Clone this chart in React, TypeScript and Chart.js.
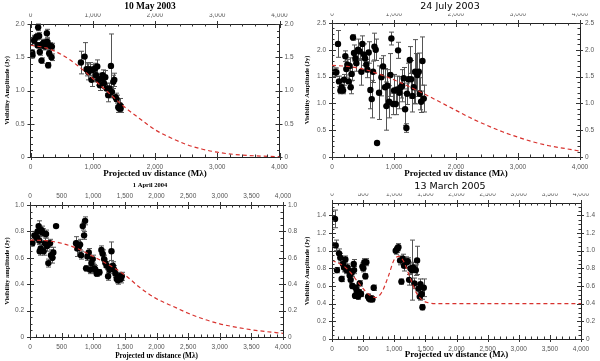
import React, { useEffect, useRef } from "react";
import { Chart, registerables } from "chart.js";

Chart.register(...registerables);

// ---------- shared model x grid (Mλ) ----------
const modelX = [0, 250, 500, 750, 1000, 1250, 1500, 1750, 2000, 2250, 2500, 2750, 3000, 3250, 3500, 3750, 4000];

// ---------- Panel 1: 10 May 2003 ----------
const p1X = [27, 32, 59, 64, 97, 113, 123, 139, 150, 166, 177, 193, 214, 231, 247, 263, 273, 284, 300, 316, 338, 343,
  810, 869, 900, 928, 954, 981, 997, 1035, 1051, 1072, 1088, 1115, 1142, 1158, 1180, 1201, 1222, 1249, 1265, 1292,
  1308, 1330, 1346, 1367, 1383, 1410, 1426, 1437, 1448];
const p1Y = [1.57, 1.53, 1.75, 1.77, 1.81, 1.68, 1.95, 1.82, 1.58, 1.68, 1.45, 1.70, 1.72, 1.66, 1.72, 1.86, 1.73, 1.38, 1.56, 1.67, 1.50, 1.66,
  1.42, 1.51, 1.32, 1.28, 1.32, 1.16, 1.31, 1.33, 1.23, 1.36, 1.16, 1.08, 1.18, 1.23, 1.11, 1.20, 1.03, 0.93, 1.03, 1.37,
  0.98, 1.13, 1.16, 0.90, 0.87, 0.75, 0.73, 0.78, 0.73];
const p1Err = [0.04, 0.04, 0.05, 0.06, 0.05, 0.04, 0.05, 0.05, 0.05, 0.04, 0.04, 0.05, 0.05, 0.05, 0.05, 0.06, 0.05, 0.04, 0.05, 0.05, 0.05, 0.05,
  0.17, 0.21, 0.1, 0.12, 0.1, 0.1, 0.08, 0.08, 0.1, 0.1, 0.08, 0.08, 0.08, 0.08, 0.08, 0.1, 0.08, 0.1, 0.08, 0.48,
  0.08, 0.1, 0.1, 0.06, 0.06, 0.08, 0.06, 0.1, 0.06];
const m1Y = [1.68, 1.64, 1.54, 1.38, 1.18, 0.97, 0.76, 0.58, 0.41, 0.29, 0.19, 0.12, 0.072, 0.041, 0.023, 0.012, 0.006];
const p1XTicks = [0, 1000, 2000, 3000, 4000];
const p1YTicks = [0, 0.5, 1, 1.5, 2];

// ---------- Panel 2: 24 July 2003 ----------
const p2X = [43, 70, 97, 113, 135, 156, 178, 194, 215, 231, 248, 269, 285, 302, 318, 339, 355, 377, 393, 420, 447, 474, 490, 516,
  533, 554, 571, 592, 619, 641, 662, 684, 705, 727, 759, 797, 824, 856, 878, 894, 921, 942, 958, 985, 1001, 1028, 1050, 1066,
  1087, 1109, 1131, 1157, 1179, 1200, 1211, 1233, 1254, 1276, 1297, 1319, 1341, 1362, 1378, 1400, 1416, 1437, 1459, 1480];
const p2Y = [1.58, 1.58, 2.11, 1.41, 1.24, 1.30, 1.24, 1.44, 1.88, 1.64, 1.72, 1.41, 1.70, 1.30, 1.55, 2.23, 1.94, 1.84, 1.75, 2.00, 1.97, 1.59, 2.11, 1.91,
  1.84, 1.72, 1.63, 1.95, 1.25, 1.08, 1.59, 2.06, 2.00, 0.26, 1.20, 1.49, 1.69, 1.30, 0.95, 1.33, 1.03, 1.53, 2.21, 0.99, 1.24, 0.99, 1.26, 1.99,
  1.20, 1.30, 1.33, 1.47, 0.89, 0.54, 1.18, 1.45, 1.81, 1.45, 1.14, 1.30, 1.59, 1.58, 1.53, 1.59, 1.18, 1.03, 1.79, 1.09];
const p2Err = [0.08, 0.08, 0.25, 0.1, 0.06, 0.06, 0.06, 0.1, 0.1, 0.15, 0.1, 0.12, 0.15, 0.12, 0.12, 0.05, 0.15, 0.1, 0.15, 0.2, 0.15, 0.25, 0.15, 0.2,
  0.1, 0.1, 0.15, 0.2, 0.35, 0.35, 0.2, 0.25, 0.2, 0, 0.5, 0.35, 0.2, 0.35, 0.45, 0.3, 0.3, 0.4, 0.12, 0.2, 0.3, 0.2, 0.25, 0.15,
  0.3, 0.2, 0.3, 0.2, 0.3, 0.08, 0.2, 0.3, 0.25, 0.35, 0.3, 0.3, 0.6, 0.35, 0.4, 0.35, 0.3, 0.2, 0.45, 0.25];
const m2Y = [1.71, 1.69, 1.64, 1.55, 1.44, 1.31, 1.17, 1.02, 0.87, 0.72, 0.59, 0.47, 0.37, 0.28, 0.21, 0.16, 0.11];
const p2XTicks = [0, 1000, 2000, 3000, 4000];
const p2YTicks = [0, 0.5, 1, 1.5, 2, 2.5];

// ---------- Panel 3: 1 April 2004 ----------
const p3X = [37, 69, 95, 116, 121, 137, 148, 153, 169, 185, 200, 216, 237, 253, 269, 290, 317, 332, 354, 369, 412,
  728, 749, 770, 792, 807, 834, 855, 871, 887, 908, 929, 950, 971, 992, 1018, 1034, 1055, 1077, 1098, 1129,
  1150, 1172, 1193, 1214, 1235, 1256, 1288, 1309, 1330, 1351, 1372, 1393, 1414, 1435, 1451];
const p3Y = [0.71, 0.77, 0.76, 0.75, 0.80, 0.84, 0.73, 0.65, 0.67, 0.81, 0.79, 0.65, 0.71, 0.78, 0.69, 0.56, 0.71, 0.62, 0.60, 0.64, 0.84,
  0.71, 0.67, 0.68, 0.70, 0.62, 0.84, 0.77, 0.88, 0.52, 0.61, 0.64, 0.51, 0.56, 0.59, 0.52, 0.51, 0.48, 0.49, 0.49, 0.66,
  0.63, 0.59, 0.56, 0.54, 0.46, 0.51, 0.65, 0.54, 0.51, 0.48, 0.44, 0.43, 0.46, 0.44, 0.46];
const p3Err = [0.02, 0.03, 0.03, 0.03, 0.03, 0.04, 0.03, 0.03, 0.03, 0.03, 0.03, 0.03, 0.04, 0.03, 0.04, 0.03, 0.03, 0.04, 0.04, 0.04, 0.01,
  0.05, 0.06, 0.04, 0.04, 0.03, 0.03, 0.03, 0.03, 0.02, 0.03, 0.03, 0.03, 0.03, 0.03, 0.03, 0.03, 0.02, 0.02, 0.02, 0.03,
  0.03, 0.03, 0.03, 0.03, 0.03, 0.03, 0.07, 0.03, 0.03, 0.03, 0.03, 0.03, 0.03, 0.03, 0.03];
const m3Y = [0.734, 0.73, 0.71, 0.67, 0.61, 0.545, 0.47, 0.37, 0.29, 0.235, 0.18, 0.135, 0.10, 0.075, 0.055, 0.04, 0.028];
const p3XTicks = [0, 500, 1000, 1500, 2000, 2500, 3000, 3500, 4000];
const p3YTicks = [0, 0.2, 0.4, 0.6, 0.8, 1];

// ---------- Panel 4: 13 March 2005 ----------
const p4X = [48, 59, 80, 113, 134, 155, 177, 193, 215, 231, 247, 268, 284, 300, 316, 327, 349, 354, 370, 381, 397, 418, 434, 445,
  466, 488, 504, 520, 536, 552, 579, 595, 617, 633, 649, 670,
  1024, 1046, 1067, 1094, 1115, 1137, 1158, 1196, 1217, 1239, 1260, 1281, 1303, 1324, 1346, 1367, 1389, 1410, 1421, 1442, 1453, 1474];
const p4Y = [1.36, 1.06, 0.78, 0.97, 0.92, 0.68, 0.85, 0.81, 0.90, 0.78, 0.81, 0.78, 0.72, 0.67, 0.75, 0.60, 0.85, 0.78, 0.49, 0.58, 0.55, 0.48, 0.53, 0.63,
  0.51, 0.82, 0.80, 0.87, 0.71, 0.87, 0.48, 0.46, 0.45, 0.46, 0.45, 0.58,
  1.00, 1.02, 1.04, 0.89, 0.65, 0.91, 0.83, 0.87, 0.88, 0.67, 0.80, 0.78, 0.81, 0.63, 0.78, 0.89, 0.57, 0.48, 0.62, 0.51, 0.36, 0.58];
const p4Err = [0.1, 0.06, 0.03, 0.05, 0.05, 0.03, 0.05, 0.05, 0.04, 0.04, 0.04, 0.04, 0.04, 0.04, 0.04, 0.03, 0.05, 0.04, 0.03, 0.03, 0.03, 0.03, 0.03, 0.03,
  0.03, 0.04, 0.04, 0.04, 0.03, 0.04, 0.03, 0.03, 0.03, 0.03, 0.03, 0.03,
  0.04, 0.04, 0.04, 0.05, 0.03, 0.05, 0.06, 0.06, 0.04, 0.06, 0.06, 0.34, 0.06, 0.06, 0.06, 0.16, 0.05, 0.04, 0.06, 0.06, 0.03, 0.1];
const m4X = [0, 100, 200, 300, 400, 500, 600, 700, 800, 900, 1000, 1075, 1150, 1250, 1350, 1450, 1550, 1650, 2000, 3000, 4000];
const m4Y = [0.89, 0.86, 0.82, 0.75, 0.66, 0.57, 0.50, 0.47, 0.53, 0.70, 0.90, 0.935, 0.88, 0.70, 0.53, 0.44, 0.41, 0.40, 0.40, 0.40, 0.40];
const p4XTicks = [0, 500, 1000, 1500, 2000, 2500, 3000, 3500, 4000];
const p4YTicks = [0, 0.2, 0.4, 0.6, 0.8, 1, 1.2, 1.4];

const SERIF = "'Liberation Serif', 'Times New Roman', serif";
const SANS = "'DejaVu Sans', sans-serif";
const TICKSANS = "'Liberation Sans', Arial, sans-serif";

type Panel = {
  left: number; top: number; w: number; h: number;
  title: string; titleFont: any;
  xTitle: string; xTitleSize: number; yTitle: string; yTitleSize: number;
  xs: number[]; ys: number[]; errs: number[]; mx: number[]; my: number[];
  yMax: number; xTicks: number[]; yTicks: number[]; xMinor: number; yMinor: number;
  area: { l: number; r: number; t: number; b: number };
};

const panels: Panel[] = [
  {
    left: 0, top: 0, w: 300, h: 180,
    title: "10 May 2003", titleFont: { family: SERIF, weight: "bold", size: 9.5 },
    xTitle: "Projected uv distance (Mλ)", xTitleSize: 9, yTitle: "Visibility Amplitude (Jy)", yTitleSize: 6.5,
    xs: p1X, ys: p1Y, errs: p1Err, mx: modelX, my: m1Y,
    yMax: 2, xTicks: p1XTicks, yTicks: p1YTicks, xMinor: 200, yMinor: 0.1,
    area: { l: 30.5, r: 279.5, t: 24, b: 157 },
  },
  {
    left: 300, top: 0, w: 300, h: 180,
    title: "24 July 2003", titleFont: { family: SANS, weight: "normal", size: 9.5 },
    xTitle: "Projected uv distance (Mλ)", xTitleSize: 9, yTitle: "Visibility Amplitude (Jy)", yTitleSize: 6.5,
    xs: p2X, ys: p2Y, errs: p2Err, mx: modelX, my: m2Y,
    yMax: 2.5, xTicks: p2XTicks, yTicks: p2YTicks, xMinor: 200, yMinor: 0.1,
    area: { l: 32, r: 280, t: 23, b: 157 },
  },
  {
    left: 0, top: 180, w: 300, h: 181,
    title: "1 April 2004", titleFont: { family: SERIF, weight: "bold", size: 6.5 },
    xTitle: "Projected uv distance (Mλ)", xTitleSize: 7.2, yTitle: "Visibility amplitude (Jy)", yTitleSize: 6.5,
    xs: p3X, ys: p3Y, errs: p3Err, mx: modelX, my: m3Y,
    yMax: 1, xTicks: p3XTicks, yTicks: p3YTicks, xMinor: 100, yMinor: 0.05,
    area: { l: 30, r: 283, t: 25, b: 157 },
  },
  {
    left: 300, top: 180, w: 300, h: 181,
    title: "13 March 2005", titleFont: { family: SANS, weight: "normal", size: 9.5 },
    xTitle: "Projected uv distance (Mλ)", xTitleSize: 9, yTitle: "Visibility Amplitude (Jy)", yTitleSize: 6.5,
    xs: p4X, ys: p4Y, errs: p4Err, mx: m4X, my: m4Y,
    yMax: 1.54, xTicks: p4XTicks, yTicks: p4YTicks, xMinor: 100, yMinor: 0.05,
    area: { l: 32, r: 281, t: 23, b: 159 },
  },
];

function buildChart(canvas: HTMLCanvasElement, p: Panel) {
  const titleH = p.titleFont.size * 1.2 + 2;
  const tickFont = { family: TICKSANS, size: 6.5 };

  const decorPlugin = {
    id: "decor",
    beforeDatasetsDraw(chart: any) {
      const ctx = chart.ctx;
      const ys = chart.scales.y;
      chart.data.datasets.forEach((ds: any, di: number) => {
        const errs = ds.errs;
        if (!errs) return;
        const meta = chart.getDatasetMeta(di);
        ctx.save();
        ctx.strokeStyle = "#555";
        ctx.lineWidth = 1;
        meta.data.forEach((el: any, i: number) => {
          const e = errs[i];
          if (!e) return;
          const v = ds.data[i].y;
          const x = Math.round(el.x) + 0.5;
          const y1 = ys.getPixelForValue(v + e);
          const y2 = ys.getPixelForValue(v - e);
          ctx.beginPath();
          ctx.moveTo(x, y1); ctx.lineTo(x, y2);
          ctx.moveTo(x - 2.5, y1); ctx.lineTo(x + 2.5, y1);
          ctx.moveTo(x - 2.5, y2); ctx.lineTo(x + 2.5, y2);
          ctx.stroke();
        });
        ctx.restore();
      });
    },
    afterDraw(chart: any) {
      const ctx = chart.ctx;
      const a = chart.chartArea;
      const xs = chart.scales.x;
      const ys = chart.scales.y;
      ctx.save();
      ctx.strokeStyle = "#333";
      ctx.lineWidth = 1;
      ctx.beginPath();
      for (let i = 0; i * p.xMinor <= 4000 + 1e-6; i++) {
        const v = i * p.xMinor;
        const major = p.xTicks.some((m) => Math.abs(m - v) < p.xMinor / 10);
        const px = Math.round(xs.getPixelForValue(v)) + 0.5;
        const inL = major ? 4 : 2.5;
        const outL = major ? 3 : 0;
        ctx.moveTo(px, a.bottom + outL); ctx.lineTo(px, a.bottom - inL);
        ctx.moveTo(px, a.top - outL); ctx.lineTo(px, a.top + inL);
      }
      for (let i = 0; i * p.yMinor <= p.yMax + 1e-6; i++) {
        const v = i * p.yMinor;
        const major = p.yTicks.some((m) => Math.abs(m - v) < p.yMinor / 10);
        const py = Math.round(ys.getPixelForValue(v)) + 0.5;
        const inL = major ? 4 : 2.5;
        const outL = major ? 3 : 0;
        ctx.moveTo(a.left - outL, py); ctx.lineTo(a.left + inL, py);
        ctx.moveTo(a.right + outL, py); ctx.lineTo(a.right - inL, py);
      }
      ctx.stroke();
      ctx.restore();
    },
  };

  const axis = (ticks: number[], min: number, max: number, padding: number) => ({
    type: "linear",
    min,
    max,
    afterBuildTicks: (s: any) => { s.ticks = ticks.map((v) => ({ value: v })); },
    grid: { display: false, drawTicks: false },
    border: { display: true, color: "#222", width: 1 },
    ticks: { font: tickFont, color: "#555", autoSkip: false, maxRotation: 0, minRotation: 0, padding },
  });

  return new Chart(canvas, {
    type: "scatter",
    data: {
      datasets: [
        {
          data: p.mx.map((x, i) => ({ x, y: p.my[i] })),
          showLine: true,
          borderColor: "#d8322e",
          borderWidth: 1.2,
          borderDash: [4, 3],
          pointRadius: 0,
          cubicInterpolationMode: "monotone",
          fill: false,
        },
        {
          data: p.xs.map((x, i) => ({ x, y: p.ys[i] })),
          backgroundColor: "#000",
          borderColor: "#000",
          borderWidth: 0,
          pointRadius: 3.2,
          errs: p.errs,
        } as any,
      ],
    },
    options: {
      animation: false,
      responsive: false,
      events: [],
      layout: { padding: 0 },
      plugins: {
        legend: { display: false },
        tooltip: { enabled: false },
        title: {
          display: true,
          text: p.title,
          font: p.titleFont,
          color: "#000",
          padding: { top: 1, bottom: 1 },
        },
      },
      scales: {
        x: {
          ...axis(p.xTicks, 0, 4000, 6),
          position: "bottom",
          title: {
            display: true,
            text: p.xTitle,
            font: { family: SERIF, weight: "bold", size: p.xTitleSize },
            color: "#000",
            padding: { top: 0, bottom: 0.5 },
          },
          afterFit: (s: any) => { s.height = p.h - p.area.b; },
        },
        x2: {
          ...axis(p.xTicks, 0, 4000, 5),
          position: "top",
          afterFit: (s: any) => { s.height = p.area.t - titleH; },
        },
        y: {
          ...axis(p.yTicks, 0, p.yMax, 6),
          position: "left",
          title: {
            display: true,
            text: p.yTitle,
            font: { family: SERIF, weight: "bold", size: p.yTitleSize },
            color: "#000",
            padding: { top: 3, bottom: 0 },
          },
          afterFit: (s: any) => { s.width = p.area.l; },
        },
        y2: {
          ...axis(p.yTicks, 0, p.yMax, 5),
          position: "right",
          afterFit: (s: any) => { s.width = p.w - p.area.r; },
        },
      },
    } as any,
    plugins: [decorPlugin],
  } as any);
}

function PanelChart({ p }: { p: Panel }) {
  const ref = useRef<HTMLCanvasElement | null>(null);
  useEffect(() => {
    if (!ref.current) return;
    const chart = buildChart(ref.current, p);
    return () => chart.destroy();
  }, [p]);
  return (
    <canvas
      ref={ref}
      width={p.w}
      height={p.h}
      style={{ position: "absolute", left: p.left, top: p.top, width: p.w, height: p.h }}
    />
  );
}

export default function App() {
  return (
    <div style={{ position: "absolute", left: 0, top: 0, width: 600, height: 361, background: "#fff" }}>
      {panels.map((p, i) => (
        <PanelChart key={i} p={p} />
      ))}
    </div>
  );
}
